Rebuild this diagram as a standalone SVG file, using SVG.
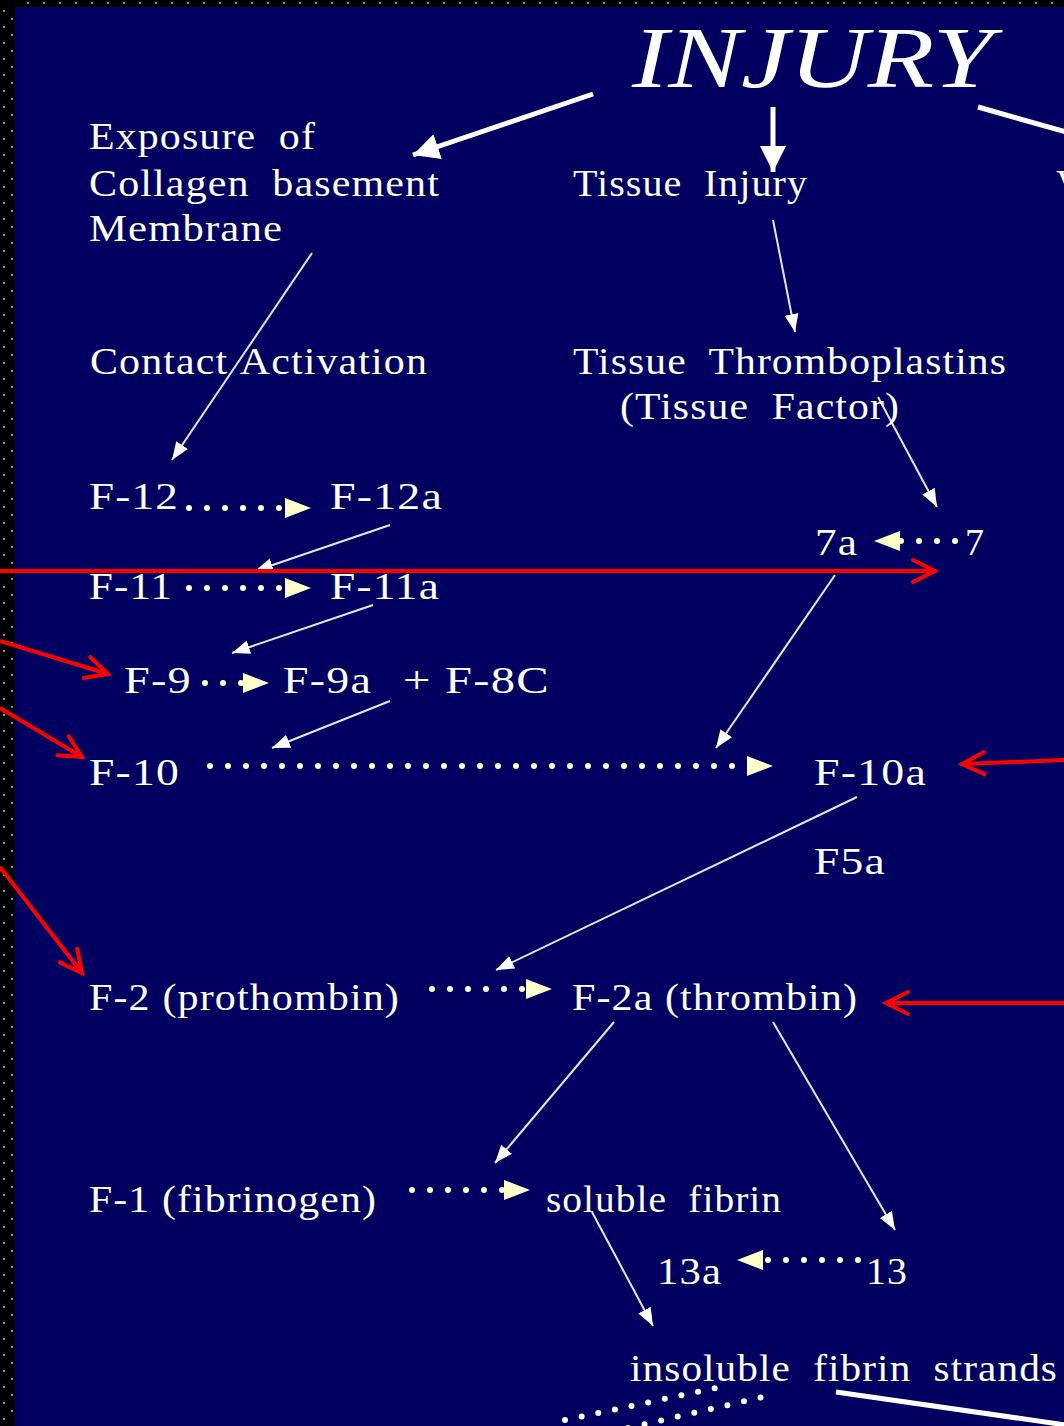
<svg xmlns="http://www.w3.org/2000/svg" width="1064" height="1426" viewBox="0 0 1064 1426">
<defs>
<style>
.t{font-family:"Liberation Serif","Times New Roman",serif;font-size:38px;fill:#ffffff;word-spacing:10px;letter-spacing:1px}
.thin{stroke:#e6e6f2;stroke-width:2;fill:none;marker-end:url(#mThin)}
.thick{stroke:#ffffff;stroke-width:5;fill:none}
.dot{stroke:#ffffcc;stroke-width:6;stroke-linecap:round;stroke-dasharray:0 18;fill:none}
.red{stroke:#ff0000;stroke-width:4;fill:none;marker-end:url(#mRed)}
</style>
<marker id="mThin" markerUnits="userSpaceOnUse" markerWidth="20" markerHeight="16" refX="18" refY="7" orient="auto"><path d="M0,0 L18,7 L0,14 z" fill="#ffffff"/></marker>
<marker id="mThick" markerUnits="userSpaceOnUse" markerWidth="30" markerHeight="28" refX="26" refY="13" orient="auto"><path d="M0,0 L26,13 L0,26 z" fill="#ffffff"/></marker>
<marker id="mDot" markerUnits="userSpaceOnUse" markerWidth="28" markerHeight="22" refX="26" refY="10" orient="auto"><path d="M0,0 L26,10 L0,20 z" fill="#ffffcc"/></marker>
<marker id="mRed" markerUnits="userSpaceOnUse" markerWidth="30" markerHeight="30" refX="24" refY="12" orient="auto" overflow="visible"><path d="M2,1 L24,12 L2,23" fill="none" stroke="#ff0000" stroke-width="4" stroke-linecap="round" stroke-linejoin="miter"/></marker>
<pattern id="pTop" patternUnits="userSpaceOnUse" x="0" y="0" width="16" height="7"><rect x="11" y="2" width="2" height="2" fill="#8a8a8a"/></pattern>
<pattern id="pLeft" patternUnits="userSpaceOnUse" x="0" y="0" width="15" height="16"><rect x="3" y="10" width="2" height="2" fill="#8a8a8a"/><rect x="11" y="2" width="2" height="2" fill="#8a8a8a"/></pattern>
</defs>

<rect x="0" y="0" width="1064" height="1426" fill="#000060"/>
<rect x="0" y="0" width="1064" height="7" fill="#000"/>
<rect x="0" y="0" width="15" height="1426" fill="#000"/>
<rect x="15" y="0" width="1049" height="7" fill="url(#pTop)"/>
<rect x="0" y="7" width="15" height="1419" fill="url(#pLeft)"/>

<g id="connectors">
  <line class="thick" x1="593" y1="94" x2="413" y2="155" marker-end="url(#mThick)"/>
  <line class="thick" x1="773" y1="107" x2="773" y2="172" marker-end="url(#mThick)"/>
  <line class="thick" x1="978" y1="107" x2="1066" y2="132"/>
  <line class="thick" x1="836" y1="1392" x2="1066" y2="1425"/>
  <line class="thin" x1="312" y1="253" x2="172" y2="460"/>
  <line class="thin" x1="773" y1="220" x2="795" y2="332"/>
  <line class="thin" x1="878" y1="397" x2="937" y2="507"/>
  <line class="thin" x1="390" y1="525" x2="255" y2="571"/>
  <line class="thin" x1="373" y1="605" x2="232" y2="653"/>
  <line class="thin" x1="390" y1="701" x2="272" y2="748"/>
  <line class="thin" x1="835" y1="575" x2="716" y2="748"/>
  <line class="thin" x1="857" y1="797" x2="496" y2="970"/>
  <line class="thin" x1="614" y1="1022" x2="495" y2="1163"/>
  <line class="thin" x1="773" y1="1022" x2="895" y2="1230"/>
  <line class="thin" x1="592" y1="1212" x2="653" y2="1326"/>
  <path class="dot" d="M189,508 L290,508"/><path d="M290,508 L311,508" stroke="none" fill="none" marker-end="url(#mDot)"/>
  <path class="dot" d="M189,588 L290,588"/><path d="M290,588 L311,588" stroke="none" fill="none" marker-end="url(#mDot)"/>
  <path class="dot" d="M205,683 L245,683"/><path d="M245,683 L269,683" stroke="none" fill="none" marker-end="url(#mDot)"/>
  <path class="dot" d="M210,766 L752,766"/><path d="M752,766 L773,766" stroke="none" fill="none" marker-end="url(#mDot)"/>
  <path class="dot" d="M955,541 L900,541"/><path d="M900,541 L874,541" stroke="none" fill="none" marker-end="url(#mDot)"/>
  <path class="dot" d="M432,989 L532,989"/><path d="M532,989 L552,989" stroke="none" fill="none" marker-end="url(#mDot)"/>
  <path class="dot" d="M412,1190 L510,1190"/><path d="M510,1190 L530,1190" stroke="none" fill="none" marker-end="url(#mDot)"/>
  <path class="dot" d="M858,1260 L760,1260"/><path d="M760,1260 L737,1260" stroke="none" fill="none" marker-end="url(#mDot)"/>
  <path d="M565,1420 L716,1388" stroke="#ffffff" stroke-width="6" stroke-linecap="round" stroke-dasharray="0 17" fill="none"/>
  <path d="M628,1428 L776,1394" stroke="#ffffff" stroke-width="6" stroke-linecap="round" stroke-dasharray="0 17" fill="none"/>
  <line class="red" x1="0" y1="571" x2="935" y2="571"/>
  <line class="red" x1="0" y1="641" x2="108" y2="674"/>
  <line class="red" x1="0" y1="708" x2="82" y2="757"/>
  <line class="red" x1="0" y1="867" x2="82" y2="973"/>
  <line class="red" x1="1066" y1="760" x2="962" y2="764"/>
  <line class="red" x1="1066" y1="1003" x2="886" y2="1003"/>
</g>

<g id="injury"><text x="632" y="87" style="font-family:'Liberation Serif','Times New Roman',serif;font-size:86px;font-style:italic;fill:#fff" textLength="361" lengthAdjust="spacingAndGlyphs">INJURY</text></g>
<g id="exposure">
  <text class="t" x="89" y="149" textLength="227" lengthAdjust="spacingAndGlyphs">Exposure of</text>
  <text class="t" x="89" y="196" textLength="351" lengthAdjust="spacingAndGlyphs">Collagen basement</text>
  <text class="t" x="89" y="241" textLength="194" lengthAdjust="spacingAndGlyphs">Membrane</text>
</g>
<g id="tissue-injury"><text class="t" x="573" y="196" textLength="235" lengthAdjust="spacingAndGlyphs">Tissue Injury</text></g>
<g id="right-cut"><text class="t" x="1056" y="196">V</text></g>
<g id="contact-activation"><text class="t" x="90" y="374" textLength="338" lengthAdjust="spacingAndGlyphs" style="word-spacing:2px">Contact Activation</text></g>
<g id="tissue-thromboplastins">
  <text class="t" x="573" y="374" textLength="434" lengthAdjust="spacingAndGlyphs">Tissue Thromboplastins</text>
  <text class="t" x="620" y="419" textLength="280" lengthAdjust="spacingAndGlyphs">(Tissue Factor)</text>
</g>
<g id="f12"><text class="t" x="89" y="509" textLength="90" lengthAdjust="spacingAndGlyphs">F-12</text></g>
<g id="f12a"><text class="t" x="330" y="509" textLength="113" lengthAdjust="spacingAndGlyphs">F-12a</text></g>
<g id="f11"><text class="t" x="89" y="599" textLength="84" lengthAdjust="spacingAndGlyphs">F-11</text></g>
<g id="f11a"><text class="t" x="330" y="599" textLength="110" lengthAdjust="spacingAndGlyphs">F-11a</text></g>
<g id="f9"><text class="t" x="124" y="693" textLength="68" lengthAdjust="spacingAndGlyphs">F-9</text></g>
<g id="f9a"><text class="t" x="283" y="693" textLength="89" lengthAdjust="spacingAndGlyphs">F-9a</text></g>
<g id="f8c"><text class="t" x="403" y="693" textLength="147" lengthAdjust="spacingAndGlyphs" style="word-spacing:0px">+ F-8C</text></g>
<g id="f7a"><text class="t" x="815" y="555" textLength="43" lengthAdjust="spacingAndGlyphs">7a</text></g>
<g id="f7"><text class="t" x="965" y="555">7</text></g>
<g id="f10"><text class="t" x="89" y="785" textLength="91" lengthAdjust="spacingAndGlyphs">F-10</text></g>
<g id="f10a"><text class="t" x="814" y="785" textLength="113" lengthAdjust="spacingAndGlyphs">F-10a</text></g>
<g id="f5a"><text class="t" x="814" y="874" textLength="72" lengthAdjust="spacingAndGlyphs">F5a</text></g>
<g id="f2"><text class="t" x="89" y="1010" textLength="311" lengthAdjust="spacingAndGlyphs" style="word-spacing:0px">F-2 (prothombin)</text></g>
<g id="f2a"><text class="t" x="572" y="1010" textLength="286" lengthAdjust="spacingAndGlyphs" style="word-spacing:0px">F-2a (thrombin)</text></g>
<g id="f1"><text class="t" x="89" y="1212" textLength="288" lengthAdjust="spacingAndGlyphs" style="word-spacing:0px">F-1 (fibrinogen)</text></g>
<g id="soluble-fibrin"><text class="t" x="546" y="1212" textLength="236" lengthAdjust="spacingAndGlyphs">soluble fibrin</text></g>
<g id="f13a"><text class="t" x="657" y="1284" textLength="65" lengthAdjust="spacingAndGlyphs">13a</text></g>
<g id="f13"><text class="t" x="866" y="1284" textLength="42" lengthAdjust="spacingAndGlyphs">13</text></g>
<g id="insoluble-fibrin"><text class="t" x="630" y="1381" textLength="428" lengthAdjust="spacingAndGlyphs">insoluble fibrin strands</text></g>
</svg>
